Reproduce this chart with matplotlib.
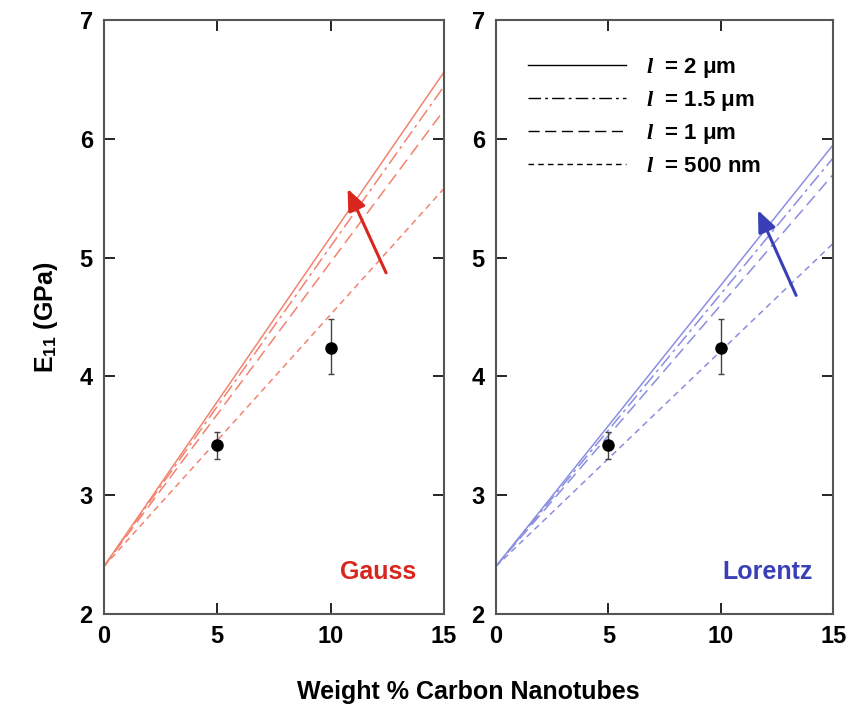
import matplotlib
matplotlib.use("Agg")
import matplotlib.pyplot as plt

plt.rcParams['font.family'] = ['Liberation Sans', 'DejaVu Sans']
plt.rcParams['font.weight'] = 'bold'
plt.rcParams['mathtext.fontset'] = 'custom'
plt.rcParams['mathtext.it'] = 'Liberation Serif:italic'
plt.rcParams['mathtext.rm'] = 'Liberation Sans:bold'

# model curves, E11 (GPa) vs CNT weight %
wt = [0, 15]
gauss = {
    '2um': [2.4, 6.56],
    '1.5um': [2.4, 6.44],
    '1um': [2.4, 6.24],
    '500nm': [2.4, 5.58],
}
lorentz = {
    '2um': [2.4, 5.95],
    '1.5um': [2.4, 5.84],
    '1um': [2.4, 5.70],
    '500nm': [2.4, 5.12],
}
legend_labels = ['$\\mathit{l}$  = 2 \u03bcm', '$\\mathit{l}$  = 1.5 \u03bcm',
                 '$\\mathit{l}$  = 1 \u03bcm', '$\\mathit{l}$  = 500 nm']

# measured values
exp_wt = [5, 10]
exp_E = [3.42, 4.24]
exp_lo = [0.12, 0.22]
exp_hi = [0.11, 0.24]

keys = ['2um', '1.5um', '1um', '500nm']
styles = ['-', (0, (9, 3, 2, 3)), (0, (8, 4)), (0, (4, 3))]

fig = plt.figure(figsize=(8.52, 7.13), dpi=100)
ax1 = fig.add_axes([0.122, 0.139, 0.399, 0.833])
ax2 = fig.add_axes([0.582, 0.139, 0.396, 0.833])


def panel(ax, curves, color, arrow_color, arrow_tail, arrow_head, name):
    for k, ls in zip(keys, styles):
        ax.plot(wt, curves[k], color=color, lw=1.1, linestyle=ls)
    ax.errorbar(exp_wt, exp_E, yerr=[exp_lo, exp_hi], fmt='o', color='black',
                ms=8, ecolor='#444444', elinewidth=1, capsize=2.5)
    ax.annotate('', xy=arrow_head, xytext=arrow_tail,
                arrowprops=dict(arrowstyle='-|>,head_width=0.55,head_length=1.3',
                                color=arrow_color, lw=2.2))
    ax.text(12.1, 2.35, name, color=arrow_color, fontsize=18, fontweight='bold',
            ha='center', va='center')
    ax.set_xlim(0, 15)
    ax.set_ylim(2, 7)
    ax.set_xticks([0, 5, 10, 15])
    ax.set_yticks([2, 3, 4, 5, 6, 7])
    ax.tick_params(direction='in', length=8, width=1.2, labelsize=17,
                   top=True, right=True, pad=8)
    for s in ax.spines.values():
        s.set_linewidth(1.5)
        s.set_color('#555555')


panel(ax1, gauss, '#f2836f', '#d8261f', (12.5, 4.85), (10.7, 5.6), 'Gauss')
panel(ax2, lorentz, '#8a8ee0', '#3a3fb5', (13.4, 4.66), (11.6, 5.42), 'Lorentz')

# legend in black on the right panel
handles = [plt.Line2D([], [], color='black', lw=1, linestyle=ls) for ls in styles]
ax2.legend(handles, legend_labels, loc='upper left', bbox_to_anchor=(0.07, 0.955),
           frameon=False, handlelength=4.4, fontsize=16, labelspacing=0.42,
           handletextpad=0.9, borderaxespad=0)

ax1.set_ylabel('E$_{11}$ (GPa)', fontsize=18, fontweight='bold', labelpad=14)
fig.text(0.55, 0.02, 'Weight % Carbon Nanotubes', fontsize=18, fontweight='bold',
         ha='center')

fig.savefig('out.png', dpi=100)
